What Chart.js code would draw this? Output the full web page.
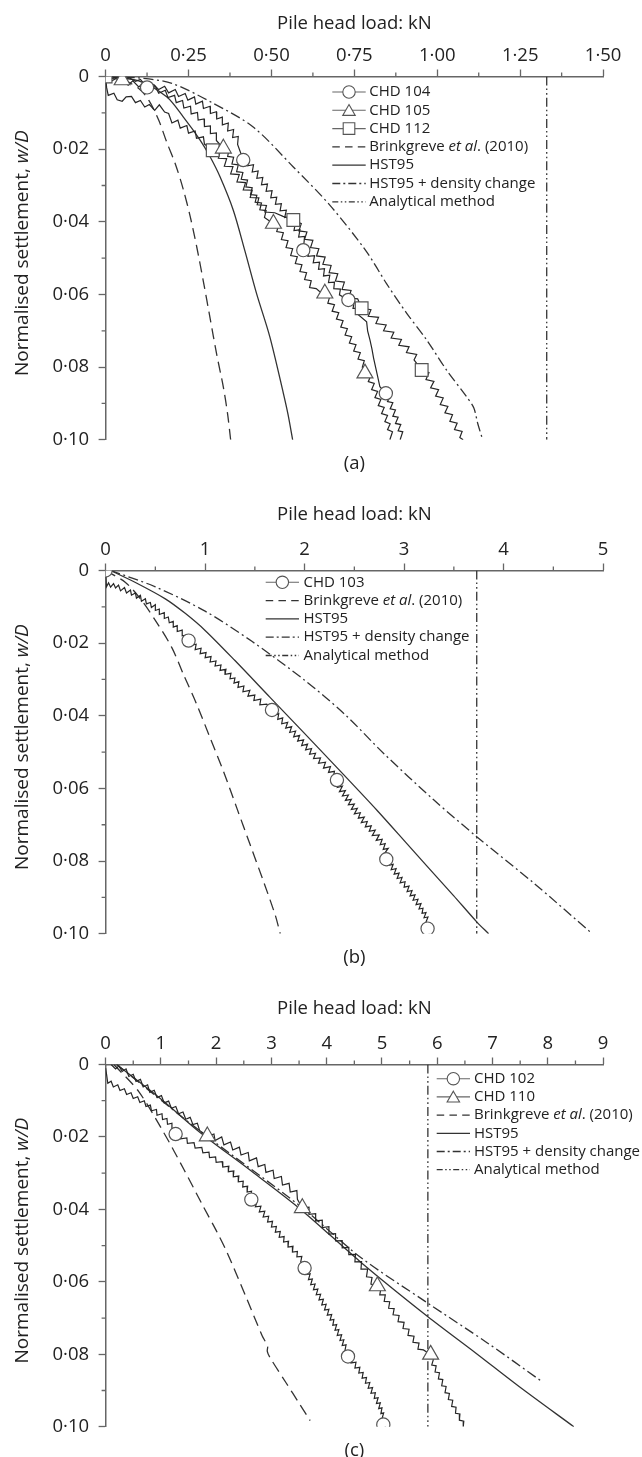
<!DOCTYPE html>
<html><head><meta charset="utf-8">
<script src="https://cdn.jsdelivr.net/npm/chart.js@4.4.1/dist/chart.umd.min.js"></script>
<style>
html,body{margin:0;padding:0;background:#fff;}
body{width:642px;height:1457px;position:relative;overflow:hidden;}
canvas{position:absolute;left:0;}
</style></head><body>
<canvas id="ca" width="642" height="494" style="top:0px"></canvas>
<canvas id="cb" width="642" height="494" style="top:494px"></canvas>
<canvas id="cc" width="642" height="469" style="top:988px"></canvas>
<script>
// ---------- tick labels ----------
const xLabelsA = ['0','0·25','0·50','0·75','1·00','1·25','1·50'];
const xLabelsB = ['0','1','2','3','4','5'];
const xLabelsC = ['0','1','2','3','4','5','6','7','8','9'];
const yLabels = ['0','0·02','0·04','0·06','0·08','0·10'];
const xMinorA = [0.125,0.375,0.625,0.875,1.125,1.375];
const xMinorB = [0.5,1.5,2.5,3.5,4.5];
const xMinorC = [0.5,1.5,2.5,3.5,4.5,5.5,6.5,7.5,8.5];
const yMinor = [0.01,0.03,0.05,0.07,0.09];

// ---------- legend labels ----------
const legendA = ['CHD 104','CHD 105','CHD 112','Brinkgreve et al. (2010)','HST95','HST95 + density change','Analytical method'];
const legendB = ['CHD 103','Brinkgreve et al. (2010)','HST95','HST95 + density change','Analytical method'];
const legendC = ['CHD 102','CHD 110','Brinkgreve et al. (2010)','HST95','HST95 + density change','Analytical method'];
const captions = ['(a)','(b)','(c)'];

// ---------- panel (a) data: [load kN, w/D] ----------
const chd104A = [[0,0],[0.02,0.0006],[0.035,0.0001],[0.055,0.0009],[0.07,0.0003],[0.09,0.0013],[0.105,0.0008],[0.125,0.003],[0.145,0.0022],[0.16,0.0036],[0.178,0.0027],[0.19,0.0045],[0.21,0.0036],[0.22,0.0055],[0.24,0.0047],[0.248,0.0065],[0.268,0.0056],[0.272,0.0076],[0.292,0.0068],[0.295,0.0088],[0.315,0.0082],[0.316,0.0102],[0.334,0.0097],[0.335,0.0117],[0.352,0.0112],[0.352,0.0133],[0.37,0.0128],[0.368,0.015],[0.386,0.0146],[0.383,0.0168],[0.4,0.0165],[0.398,0.0187],[0.415,0.023],[0.432,0.0226],[0.428,0.0246],[0.446,0.0243],[0.442,0.0263],[0.46,0.026],[0.456,0.028],[0.474,0.0278],[0.47,0.0298],[0.488,0.0296],[0.484,0.0316],[0.502,0.0314],[0.498,0.0334],[0.516,0.0332],[0.512,0.0352],[0.53,0.035],[0.526,0.037],[0.545,0.0368],[0.54,0.0388],[0.558,0.0386],[0.554,0.0406],[0.572,0.0404],[0.568,0.0424],[0.586,0.0422],[0.582,0.0442],[0.6,0.044],[0.596,0.0478],[0.615,0.0475],[0.61,0.0495],[0.63,0.0493],[0.626,0.0513],[0.645,0.0511],[0.642,0.0531],[0.66,0.0529],[0.657,0.0549],[0.676,0.0547],[0.672,0.0567],[0.69,0.0566],[0.688,0.0584],[0.708,0.0585],[0.705,0.0601],[0.732,0.0615],[0.75,0.0618],[0.746,0.0638],[0.765,0.0638],[0.762,0.0656],[0.787,0.0675],[0.79,0.07],[0.797,0.0725],[0.803,0.075],[0.808,0.0775],[0.814,0.08],[0.82,0.0825],[0.827,0.0854],[0.845,0.0872],[0.858,0.0878],[0.85,0.0895],[0.866,0.0898],[0.858,0.0915],[0.874,0.0918],[0.866,0.0935],[0.882,0.0938],[0.874,0.0955],[0.89,0.0958],[0.882,0.0975],[0.896,0.0978],[0.888,0.1]];
const chd104AMarks = [[0.125,0.003],[0.415,0.023],[0.596,0.0478],[0.732,0.0615],[0.845,0.0872]];
const chd105A = [[0,0],[0.012,0.0016],[0.03,0.0006],[0.05,0.001],[0.068,0.0024],[0.082,0.0012],[0.1,0.0029],[0.115,0.0017],[0.132,0.0036],[0.15,0.0027],[0.16,0.0046],[0.18,0.0038],[0.188,0.0058],[0.208,0.0052],[0.213,0.0072],[0.232,0.0066],[0.236,0.0087],[0.256,0.0082],[0.258,0.0103],[0.277,0.0099],[0.279,0.012],[0.297,0.0117],[0.298,0.0138],[0.316,0.0136],[0.316,0.0157],[0.334,0.0155],[0.334,0.0176],[0.355,0.0198],[0.372,0.0201],[0.368,0.022],[0.386,0.0222],[0.381,0.0241],[0.4,0.0243],[0.395,0.0262],[0.414,0.0264],[0.409,0.0283],[0.428,0.0285],[0.423,0.0304],[0.442,0.0306],[0.437,0.0325],[0.456,0.0327],[0.451,0.0346],[0.47,0.0348],[0.465,0.0367],[0.484,0.0369],[0.479,0.0388],[0.506,0.0405],[0.522,0.0408],[0.516,0.0427],[0.536,0.043],[0.53,0.0449],[0.55,0.0452],[0.544,0.0471],[0.564,0.0474],[0.558,0.0493],[0.578,0.0496],[0.572,0.0515],[0.592,0.0518],[0.586,0.0537],[0.606,0.054],[0.6,0.0559],[0.62,0.0562],[0.615,0.0581],[0.635,0.0584],[0.645,0.0592],[0.661,0.0597],[0.676,0.0605],[0.67,0.0624],[0.69,0.0628],[0.683,0.0646],[0.703,0.065],[0.696,0.0668],[0.716,0.0672],[0.709,0.069],[0.729,0.0694],[0.722,0.0712],[0.742,0.0716],[0.735,0.0734],[0.755,0.0738],[0.748,0.0756],[0.768,0.076],[0.761,0.0778],[0.78,0.0782],[0.774,0.08],[0.782,0.0817],[0.8,0.0822],[0.792,0.084],[0.81,0.0845],[0.802,0.0862],[0.82,0.0867],[0.812,0.0884],[0.83,0.0889],[0.822,0.0906],[0.84,0.0911],[0.832,0.0928],[0.85,0.0933],[0.842,0.095],[0.858,0.0956],[0.85,0.0972],[0.865,0.0978],[0.857,0.1]];
const chd105AMarks = [[0.05,0.001],[0.355,0.0198],[0.506,0.0405],[0.661,0.0597],[0.782,0.0817]];
const chd112A = [[0,0],[0.003,0.003],[0.008,0.0052],[0.025,0.0046],[0.035,0.0064],[0.05,0.0068],[0.062,0.0056],[0.078,0.0055],[0.09,0.0072],[0.105,0.0066],[0.118,0.0084],[0.132,0.0077],[0.148,0.0093],[0.162,0.0078],[0.178,0.0098],[0.19,0.0102],[0.2,0.0128],[0.218,0.012],[0.225,0.0142],[0.245,0.0135],[0.25,0.0156],[0.27,0.015],[0.274,0.017],[0.295,0.0166],[0.298,0.0186],[0.323,0.0203],[0.346,0.0204],[0.34,0.0225],[0.365,0.0226],[0.358,0.0247],[0.384,0.0248],[0.377,0.0268],[0.403,0.027],[0.396,0.029],[0.422,0.0292],[0.415,0.0312],[0.442,0.0313],[0.436,0.0333],[0.462,0.0334],[0.457,0.0353],[0.485,0.0355],[0.48,0.0373],[0.51,0.0375],[0.535,0.0385],[0.566,0.0395],[0.59,0.0405],[0.583,0.0425],[0.607,0.0428],[0.6,0.0448],[0.625,0.0451],[0.618,0.0471],[0.643,0.0474],[0.636,0.0494],[0.662,0.0497],[0.655,0.0517],[0.68,0.052],[0.674,0.054],[0.7,0.0543],[0.693,0.0563],[0.72,0.0566],[0.713,0.0586],[0.74,0.0589],[0.733,0.0609],[0.76,0.0612],[0.772,0.0638],[0.8,0.0642],[0.792,0.066],[0.823,0.0663],[0.815,0.068],[0.846,0.0684],[0.838,0.07],[0.869,0.0704],[0.861,0.072],[0.892,0.0724],[0.884,0.074],[0.915,0.0744],[0.907,0.076],[0.938,0.0765],[0.93,0.078],[0.953,0.0808],[0.975,0.0815],[0.966,0.0834],[0.99,0.0839],[0.98,0.0857],[1.004,0.0862],[0.995,0.088],[1.018,0.0885],[1.009,0.0903],[1.032,0.0908],[1.023,0.0926],[1.046,0.0931],[1.038,0.0949],[1.06,0.0954],[1.052,0.0972],[1.075,0.0977],[1.068,0.0994],[1.078,0.1]];
const chd112AMarks = [[0,0],[0.323,0.0203],[0.566,0.0395],[0.772,0.0638],[0.953,0.0808]];
const brinkA = [[0,0],[0.05,0.0008],[0.1,0.0033],[0.13,0.0065],[0.16,0.012],[0.184,0.018],[0.21,0.024],[0.234,0.031],[0.255,0.0385],[0.275,0.047],[0.295,0.0565],[0.315,0.0665],[0.335,0.0765],[0.355,0.0855],[0.368,0.093],[0.377,0.1]];
const hst95A = [[0,0],[0.1,0.0012],[0.184,0.0056],[0.234,0.0111],[0.285,0.0175],[0.315,0.0221],[0.345,0.0276],[0.385,0.0368],[0.42,0.048],[0.455,0.0597],[0.495,0.0716],[0.536,0.0872],[0.55,0.093],[0.564,0.1]];
const densA = [[0,0],[0.1,0.0004],[0.2,0.0019],[0.325,0.0074],[0.445,0.0139],[0.566,0.0249],[0.676,0.0354],[0.785,0.048],[0.847,0.057],[0.908,0.0652],[0.968,0.0725],[1.028,0.0808],[1.088,0.0881],[1.11,0.0912],[1.122,0.0955],[1.137,0.1]];
const analyticA = [[1.33,0],[1.33,0.1]];

// ---------- panel (b) data ----------
const chd103B = [[0,0],[0.004,0.0022],[0.008,0.0045],[0.03,0.0034],[0.05,0.0046],[0.08,0.0036],[0.1,0.0048],[0.13,0.004],[0.15,0.0056],[0.19,0.0047],[0.21,0.0062],[0.25,0.0054],[0.26,0.0068],[0.3,0.0062],[0.31,0.0076],[0.35,0.0068],[0.36,0.0085],[0.4,0.0078],[0.41,0.0092],[0.45,0.0088],[0.46,0.0102],[0.5,0.0094],[0.5,0.011],[0.54,0.0106],[0.54,0.0121],[0.59,0.0116],[0.59,0.0132],[0.63,0.0128],[0.64,0.0144],[0.68,0.014],[0.68,0.0156],[0.72,0.0152],[0.72,0.0168],[0.77,0.0164],[0.77,0.018],[0.81,0.0178],[0.834,0.0193],[0.87,0.0192],[0.86,0.0206],[0.91,0.0203],[0.9,0.0218],[0.96,0.0214],[0.95,0.0229],[1.01,0.0226],[1.0,0.024],[1.06,0.0237],[1.05,0.0252],[1.11,0.0249],[1.1,0.0263],[1.16,0.026],[1.15,0.0275],[1.21,0.0272],[1.2,0.0286],[1.26,0.0283],[1.25,0.0298],[1.3,0.0296],[1.29,0.031],[1.34,0.0306],[1.33,0.0322],[1.39,0.0318],[1.38,0.0334],[1.45,0.033],[1.43,0.0346],[1.5,0.0343],[1.49,0.0358],[1.56,0.0354],[1.55,0.037],[1.62,0.0368],[1.672,0.0384],[1.7,0.0383],[1.69,0.0398],[1.74,0.0394],[1.73,0.041],[1.78,0.0406],[1.77,0.0422],[1.83,0.0418],[1.81,0.0434],[1.87,0.043],[1.85,0.0446],[1.91,0.0442],[1.89,0.0458],[1.95,0.0454],[1.93,0.047],[1.99,0.0466],[1.97,0.0482],[2.03,0.0478],[2.01,0.0494],[2.07,0.049],[2.05,0.0506],[2.11,0.0503],[2.09,0.0518],[2.16,0.0516],[2.14,0.0531],[2.21,0.0528],[2.19,0.0544],[2.26,0.054],[2.24,0.0556],[2.3,0.0553],[2.29,0.0568],[2.325,0.0577],[2.35,0.0584],[2.33,0.0597],[2.38,0.0594],[2.35,0.0609],[2.41,0.0606],[2.38,0.0621],[2.44,0.0618],[2.41,0.0633],[2.47,0.063],[2.44,0.0645],[2.5,0.0643],[2.47,0.0658],[2.53,0.0655],[2.5,0.067],[2.56,0.0667],[2.54,0.0682],[2.6,0.0679],[2.57,0.0694],[2.63,0.0691],[2.61,0.0706],[2.67,0.0703],[2.65,0.0718],[2.71,0.0715],[2.68,0.073],[2.75,0.0728],[2.72,0.0743],[2.78,0.074],[2.76,0.0755],[2.81,0.0752],[2.79,0.0768],[2.84,0.0765],[2.8,0.078],[2.821,0.0795],[2.86,0.0798],[2.84,0.0812],[2.89,0.0809],[2.87,0.0824],[2.92,0.0821],[2.9,0.0836],[2.95,0.0833],[2.93,0.0848],[2.98,0.0845],[2.96,0.086],[3.01,0.0857],[3.0,0.0872],[3.05,0.0869],[3.03,0.0884],[3.08,0.0881],[3.06,0.0896],[3.11,0.0893],[3.09,0.0908],[3.14,0.0905],[3.12,0.092],[3.17,0.0917],[3.15,0.0932],[3.19,0.093],[3.18,0.0944],[3.22,0.0942],[3.2,0.0956],[3.24,0.0954],[3.22,0.0968],[3.236,0.0986],[3.26,0.0992],[3.25,0.1]];
const chd103BMarks = [[0,0],[0.834,0.0193],[1.672,0.0384],[2.325,0.0577],[2.821,0.0795],[3.236,0.0986]];
const brinkB = [[0,0],[0.2,0.0033],[0.35,0.0078],[0.516,0.0144],[0.667,0.0213],[0.784,0.0287],[0.918,0.037],[1.052,0.0462],[1.186,0.0554],[1.32,0.0655],[1.454,0.0756],[1.588,0.0857],[1.705,0.0949],[1.755,0.1]];
const hst95B = [[0.05,0],[0.3,0.0033],[0.6,0.0078],[0.8,0.0118],[1.0,0.0165],[1.3,0.0248],[1.655,0.035],[1.987,0.0445],[2.392,0.0562],[2.727,0.066],[3.028,0.0752],[3.23,0.0814],[3.497,0.0895],[3.732,0.0968],[3.849,0.1]];
const densB = [[0.05,0],[0.5,0.0045],[1.0,0.0112],[1.47,0.0195],[2.0,0.0302],[2.4,0.0395],[2.8,0.0505],[3.3,0.0632],[3.73,0.0733],[4.3,0.086],[4.89,0.1]];
const analyticB = [[3.73,0],[3.73,0.1]];

// ---------- panel (c) data ----------
const chd102C = [[0,0.001],[0.02,0.003],[0.04,0.0052],[0.1,0.0046],[0.14,0.0062],[0.22,0.0056],[0.26,0.0072],[0.34,0.0067],[0.38,0.0083],[0.46,0.0078],[0.5,0.0094],[0.58,0.0089],[0.62,0.0105],[0.7,0.01],[0.73,0.0116],[0.81,0.0112],[0.83,0.0128],[0.92,0.0124],[0.93,0.014],[1.02,0.0136],[1.03,0.0152],[1.11,0.0149],[1.12,0.0165],[1.2,0.0162],[1.2,0.0178],[1.267,0.0192],[1.36,0.019],[1.36,0.0205],[1.47,0.0203],[1.48,0.0218],[1.6,0.0216],[1.62,0.0231],[1.74,0.0229],[1.76,0.0244],[1.87,0.0242],[1.88,0.0257],[1.99,0.0255],[2.0,0.027],[2.11,0.0268],[2.12,0.0283],[2.23,0.0281],[2.22,0.0296],[2.32,0.0294],[2.31,0.031],[2.41,0.0308],[2.4,0.0324],[2.49,0.0322],[2.48,0.0338],[2.57,0.0336],[2.56,0.0352],[2.64,0.035],[2.62,0.0366],[2.636,0.0373],[2.74,0.0378],[2.71,0.0393],[2.81,0.0391],[2.78,0.0407],[2.88,0.0405],[2.85,0.0421],[2.95,0.0419],[2.93,0.0435],[3.02,0.0433],[3.0,0.0449],[3.09,0.0447],[3.07,0.0463],[3.16,0.0461],[3.14,0.0477],[3.23,0.0475],[3.22,0.049],[3.31,0.0488],[3.3,0.0504],[3.39,0.0502],[3.38,0.0518],[3.47,0.0516],[3.46,0.0531],[3.55,0.053],[3.53,0.0545],[3.6,0.0562],[3.66,0.0565],[3.63,0.058],[3.7,0.0578],[3.67,0.0594],[3.74,0.0592],[3.71,0.0608],[3.79,0.0606],[3.76,0.0622],[3.84,0.062],[3.81,0.0636],[3.89,0.0634],[3.86,0.065],[3.94,0.0648],[3.91,0.0664],[3.99,0.0662],[3.96,0.0678],[4.04,0.0676],[4.01,0.0692],[4.09,0.069],[4.06,0.0706],[4.13,0.0704],[4.11,0.072],[4.18,0.0718],[4.15,0.0734],[4.22,0.0732],[4.19,0.0748],[4.27,0.0746],[4.24,0.0762],[4.31,0.076],[4.28,0.0776],[4.35,0.0774],[4.33,0.079],[4.385,0.0806],[4.46,0.0808],[4.44,0.0824],[4.53,0.0822],[4.51,0.0838],[4.6,0.0836],[4.58,0.0852],[4.66,0.085],[4.64,0.0866],[4.72,0.0864],[4.7,0.088],[4.78,0.0878],[4.75,0.0894],[4.83,0.0892],[4.8,0.0908],[4.88,0.0906],[4.86,0.0922],[4.93,0.092],[4.9,0.0936],[4.97,0.0934],[4.94,0.095],[5.0,0.0948],[4.98,0.0964],[5.03,0.0962],[5.0,0.0978],[5.024,0.0994],[5.07,0.1]];
const chd102CMarks = [[1.267,0.0192],[2.636,0.0373],[3.6,0.0562],[4.385,0.0806],[5.024,0.0994]];
const chd110C = [[0.1,0],[0.18,0.0012],[0.24,0.0004],[0.3,0.0019],[0.37,0.0012],[0.42,0.0033],[0.5,0.0027],[0.55,0.0047],[0.63,0.0041],[0.68,0.0062],[0.76,0.0056],[0.8,0.0077],[0.88,0.0071],[0.93,0.0091],[1.01,0.0086],[1.06,0.0106],[1.14,0.0101],[1.19,0.0121],[1.27,0.0116],[1.32,0.0136],[1.4,0.0131],[1.45,0.0151],[1.53,0.0146],[1.58,0.0166],[1.66,0.0162],[1.7,0.0182],[1.84,0.0198],[1.96,0.0192],[1.98,0.021],[2.1,0.02],[2.14,0.0222],[2.26,0.0214],[2.3,0.0236],[2.42,0.0228],[2.45,0.025],[2.58,0.0243],[2.6,0.0266],[2.73,0.0258],[2.76,0.0282],[2.88,0.0276],[2.9,0.0298],[3.03,0.0292],[3.05,0.0315],[3.18,0.0309],[3.2,0.0333],[3.32,0.0328],[3.34,0.0352],[3.46,0.0348],[3.47,0.0372],[3.559,0.0396],[3.68,0.0394],[3.68,0.0414],[3.8,0.0412],[3.8,0.0432],[3.92,0.043],[3.92,0.045],[4.04,0.0448],[4.04,0.0468],[4.16,0.0467],[4.16,0.0487],[4.28,0.0486],[4.28,0.0506],[4.4,0.0505],[4.4,0.0525],[4.52,0.0524],[4.51,0.0545],[4.63,0.0544],[4.62,0.0565],[4.74,0.0565],[4.72,0.0586],[4.82,0.0588],[4.8,0.0606],[4.916,0.0612],[4.98,0.0618],[4.96,0.0636],[5.06,0.0636],[5.04,0.0654],[5.14,0.0655],[5.12,0.0673],[5.22,0.0674],[5.2,0.0691],[5.31,0.0693],[5.29,0.071],[5.4,0.0712],[5.38,0.0729],[5.49,0.0731],[5.47,0.0748],[5.58,0.075],[5.56,0.0767],[5.67,0.0769],[5.65,0.0786],[5.75,0.0788],[5.88,0.0801],[5.93,0.0814],[5.9,0.083],[5.98,0.0832],[5.96,0.0849],[6.04,0.0851],[6.02,0.0868],[6.1,0.087],[6.08,0.0887],[6.16,0.0889],[6.14,0.0906],[6.22,0.0908],[6.2,0.0925],[6.28,0.0927],[6.26,0.0944],[6.34,0.0946],[6.33,0.0963],[6.41,0.0965],[6.4,0.0982],[6.48,0.0985],[6.47,0.1]];
const chd110CMarks = [[1.84,0.0198],[3.559,0.0396],[4.916,0.0612],[5.88,0.0801]];
const brinkC = [[0.15,0],[0.6,0.0075],[1.056,0.0189],[1.417,0.029],[1.76,0.039],[2.0,0.0458],[2.2,0.052],[2.53,0.0638],[2.83,0.0748],[2.93,0.0778],[2.925,0.0792],[2.97,0.0808],[3.27,0.088],[3.5,0.0935],[3.7,0.0983]];
const hst95C = [[0.2,0],[1.0,0.0095],[1.72,0.0189],[2.6,0.029],[3.53,0.04],[4.61,0.0545],[5.82,0.0695],[6.7,0.0797],[7.48,0.0889],[8.47,0.1]];
const densC = [[0.2,0],[1.72,0.0185],[3.53,0.0392],[4.61,0.0532],[5.82,0.0658],[6.9,0.0768],[7.9,0.0876]];
const analyticC = [[5.83,0],[5.83,0.1]];

// ---------- styling ----------
const FONT = "'Open Sans', sans-serif";
const INK = '#222';
const AXIS = '#666';
const DASH = [11,6];
const DASHDOT = [10,3.5,2,3.5];
const DASHDOTDOT = [9,3,1.6,3,1.6,3];

function xy(arr){ return arr.map(p => ({x:p[0], y:p[1]})); }
function measured(arr){ return {data:xy(arr), showLine:true, pointRadius:0, pointHoverRadius:0, borderColor:'#262626', borderWidth:1.2, tension:0, order:2}; }
function marks(arr, style, r){ return {data:xy(arr), showLine:false, pointStyle:style, pointRadius:r, pointHoverRadius:r, backgroundColor:'#fff', borderColor:'#555', borderWidth:1.2, order:0}; }
function model(arr, dash, t){ return {data:xy(arr), showLine:true, pointRadius:0, pointHoverRadius:0, borderColor:'#333', borderWidth:1.3, borderDash:dash, tension:t, order:3}; }

const MARK = {circle:6.6, triangle:9.2, rect:9.0};

function richSegs(str){
  const i = str.indexOf('et al');
  if (i < 0) return [[str,false]];
  return [[str.slice(0,i),false],['et al',true],[str.slice(i+5),false]];
}
function drawRich(ctx, segs, x, y, size, align){
  let total = 0;
  segs.forEach(s => { ctx.font = (s[1]?'italic ':'') + size + 'px ' + FONT; total += ctx.measureText(s[0]).width; });
  let cx = align === 'center' ? x - total/2 : x;
  ctx.textAlign = 'left';
  segs.forEach(s => { ctx.font = (s[1]?'italic ':'') + size + 'px ' + FONT; ctx.fillText(s[0], cx, y); cx += ctx.measureText(s[0]).width; });
}
function drawMarker(ctx, style, x, y, r){
  ctx.beginPath();
  if (style === 'circle') ctx.arc(x, y, r, 0, Math.PI*2);
  else if (style === 'triangle'){ ctx.moveTo(x, y - r); ctx.lineTo(x + r*0.866, y + r*0.5); ctx.lineTo(x - r*0.866, y + r*0.5); ctx.closePath(); }
  else { ctx.rect(x - r*0.7071, y - r*0.7071, r*1.4142, r*1.4142); }
  ctx.fillStyle = '#fff'; ctx.fill();
  ctx.strokeStyle = '#555'; ctx.lineWidth = 1.1; ctx.stroke();
}

function decor(cfg){
  return {
    id: 'decor_' + cfg.id,
    afterDraw(chart){
      const ctx = chart.ctx, xs = chart.scales.x, ys = chart.scales.y, ca = chart.chartArea;
      ctx.save();
      // minor ticks
      ctx.strokeStyle = AXIS; ctx.lineWidth = 1.3; ctx.setLineDash([]);
      ctx.beginPath();
      cfg.xMinor.forEach(v => { const p = xs.getPixelForValue(v); ctx.moveTo(p, ca.top); ctx.lineTo(p, ca.top - 4); });
      yMinor.forEach(v => { const p = ys.getPixelForValue(v); ctx.moveTo(ca.left, p); ctx.lineTo(ca.left - 4, p); });
      ctx.stroke();
      // y-axis title (mixed italic)
      ctx.fillStyle = INK; ctx.textBaseline = 'middle';
      ctx.save();
      ctx.translate(22.5, (ca.top + ca.bottom)/2 - 5);
      ctx.rotate(-Math.PI/2);
      drawRich(ctx, [['Normalised settlement, ',false],['w/D',true]], 0, 0, 19, 'center');
      ctx.restore();
      // caption
      ctx.font = '18.5px ' + FONT; ctx.textAlign = 'center'; ctx.fillStyle = INK;
      ctx.fillText(cfg.caption, (ca.left + ca.right)/2, ca.bottom + 23.7);
      // legend
      const L = cfg.legend;
      cfg.legendItems.forEach((it, k) => {
        const y = L.y0 + k * L.step;
        ctx.save();
        ctx.beginPath();
        ctx.setLineDash(it.dash || []);
        ctx.strokeStyle = it.marker ? '#666' : '#333';
        ctx.lineWidth = it.marker ? 1.1 : 1.3;
        ctx.moveTo(L.x0, y); ctx.lineTo(L.x1, y); ctx.stroke();
        ctx.setLineDash([]);
        if (it.marker) drawMarker(ctx, it.marker, (L.x0 + L.x1)/2, y + (it.marker==='triangle'?1.5:0), it.marker==='triangle'?7.2:(it.marker==='rect'?8.2:6.2));
        ctx.restore();
        ctx.fillStyle = INK; ctx.textBaseline = 'middle';
        drawRich(ctx, richSegs(it.label), L.tx, y, 15, 'left');
      });
      ctx.restore();
    }
  };
}

function makeChart(cfg){
  return new Chart(document.getElementById(cfg.id), {
    type: 'scatter',
    data: {datasets: cfg.datasets},
    options: {
      responsive: false, animation: false, devicePixelRatio: 1,
      events: [],
      layout: {padding: {left: 0, right: 38.9, top: 0, bottom: cfg.padBottom}},
      plugins: {legend: {display: false}, tooltip: {enabled: false}},
      scales: {
        x: {
          type: 'linear', position: 'top', min: 0, max: cfg.xMax,
          afterFit(s){ s.height = 76.5; },
          ticks: {stepSize: cfg.xStep, autoSkip: false, maxRotation: 0, minRotation: 0, padding: 3, color: INK,
                  font: {family: FONT, size: 18.5}, callback: v => cfg.xLabels[Math.round(v / cfg.xStep)]},
          grid: {drawOnChartArea: false, drawTicks: true, tickLength: 7, tickColor: AXIS, tickWidth: 1.3},
          border: {display: true, color: AXIS, width: 1.5},
          title: {display: true, text: 'Pile head load: kN', color: INK, font: {family: FONT, size: 18.5}, padding: {top: cfg.titlePad, bottom: 0}}
        },
        y: {
          type: 'linear', position: 'left', reverse: true, min: 0, max: 0.1,
          afterFit(s){ s.width = 105.6; },
          ticks: {stepSize: 0.02, autoSkip: false, padding: 9.5, color: INK,
                  font: {family: FONT, size: 18.5}, callback: v => yLabels[Math.round(v / 0.02)]},
          grid: {drawOnChartArea: false, drawTicks: true, tickLength: 7, tickColor: AXIS, tickWidth: 1.3},
          border: {display: true, color: AXIS, width: 1.5}
        }
      }
    },
    plugins: [decor(cfg)]
  });
}

makeChart({
  id: 'ca', xMax: 1.5, xStep: 0.25, xLabels: xLabelsA, xMinor: xMinorA, padBottom: 54.2, titlePad: 12.9, caption: captions[0],
  datasets: [
    marks(chd104AMarks,'circle',MARK.circle), marks(chd105AMarks,'triangle',MARK.triangle), marks(chd112AMarks,'rect',MARK.rect),
    measured(chd104A), measured(chd105A), measured(chd112A),
    model(brinkA, DASH, 0.3), model(hst95A, [], 0.3), model(densA, DASHDOT, 0.3), model(analyticA, DASHDOTDOT, 0)
  ],
  legend: {x0: 332.3, x1: 365.7, tx: 369.3, y0: 92, step: 18.3},
  legendItems: [
    {label: legendA[0], marker: 'circle'}, {label: legendA[1], marker: 'triangle'}, {label: legendA[2], marker: 'rect'},
    {label: legendA[3], dash: [7.5,5.25]}, {label: legendA[4]}, {label: legendA[5], dash: [8,3,2,3]}, {label: legendA[6], dash: [6,2.5,1.5,2.5,1.5,2.5]}
  ]
});
makeChart({
  id: 'cb', xMax: 5, xStep: 1, xLabels: xLabelsB, xMinor: xMinorB, padBottom: 54.3, titlePad: 9.9, caption: captions[1],
  datasets: [
    marks(chd103BMarks,'circle',MARK.circle),
    measured(chd103B),
    model(brinkB, DASH, 0.3), model(hst95B, [], 0.3), model(densB, DASHDOT, 0.3), model(analyticB, DASHDOTDOT, 0)
  ],
  legend: {x0: 265.7, x1: 299, tx: 303.5, y0: 88.3, step: 18.3},
  legendItems: [
    {label: legendB[0], marker: 'circle'},
    {label: legendB[1], dash: [7.5,5.25]}, {label: legendB[2]}, {label: legendB[3], dash: [8,3,2,3]}, {label: legendB[4], dash: [6,2.5,1.5,2.5,1.5,2.5]}
  ]
});
makeChart({
  id: 'cc', xMax: 9, xStep: 1, xLabels: xLabelsC, xMinor: xMinorC, padBottom: 30.3, titlePad: 9.4, caption: captions[2],
  datasets: [
    marks(chd102CMarks,'circle',MARK.circle), marks(chd110CMarks,'triangle',MARK.triangle),
    measured(chd102C), measured(chd110C),
    model(brinkC, DASH, 0.3), model(hst95C, [], 0.3), model(densC, DASHDOT, 0.3), model(analyticC, DASHDOTDOT, 0)
  ],
  legend: {x0: 436.7, x1: 470, tx: 474, y0: 90.7, step: 18.2},
  legendItems: [
    {label: legendC[0], marker: 'circle'}, {label: legendC[1], marker: 'triangle'},
    {label: legendC[2], dash: [7.5,5.25]}, {label: legendC[3]}, {label: legendC[4], dash: [8,3,2,3]}, {label: legendC[5], dash: [6,2.5,1.5,2.5,1.5,2.5]}
  ]
});
</script>
</body></html>
